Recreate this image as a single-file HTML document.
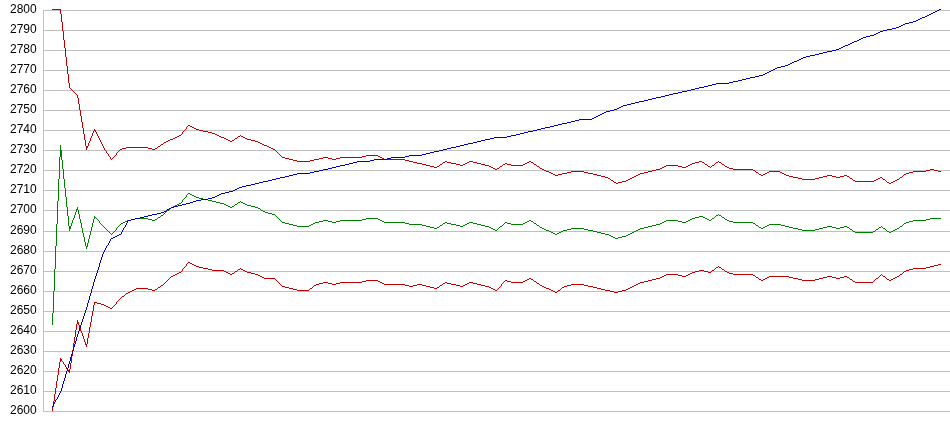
<!DOCTYPE html>
<html><head><meta charset="utf-8"><title>chart</title>
<style>
html,body{margin:0;padding:0;background:#fff;}
body{width:950px;height:435px;position:relative;overflow:hidden;font-family:"Liberation Sans",sans-serif;}
.l{position:absolute;left:10px;width:30px;height:14px;line-height:14px;font-size:12px;color:#000;text-align:left;white-space:nowrap;will-change:transform;}
svg{position:absolute;left:0;top:0;}
</style></head><body>
<svg width="950" height="435" viewBox="0 0 950 435">
<g fill="#c0c0c0" shape-rendering="crispEdges"><rect x="43" y="10" width="907" height="1"/><rect x="43" y="30" width="907" height="1"/><rect x="43" y="50" width="907" height="1"/><rect x="43" y="70" width="907" height="1"/><rect x="43" y="90" width="907" height="1"/><rect x="43" y="110" width="907" height="1"/><rect x="43" y="130" width="907" height="1"/><rect x="43" y="150" width="907" height="1"/><rect x="43" y="170" width="907" height="1"/><rect x="43" y="190" width="907" height="1"/><rect x="43" y="210" width="907" height="1"/><rect x="43" y="231" width="907" height="1"/><rect x="43" y="251" width="907" height="1"/><rect x="43" y="271" width="907" height="1"/><rect x="43" y="291" width="907" height="1"/><rect x="43" y="311" width="907" height="1"/><rect x="43" y="331" width="907" height="1"/><rect x="43" y="351" width="907" height="1"/><rect x="43" y="371" width="907" height="1"/><rect x="43" y="391" width="907" height="1"/><rect x="43" y="411" width="907" height="1"/><rect x="43" y="10" width="1" height="402"/></g>
<g stroke="none" shape-rendering="crispEdges">
<path fill="#008000" d="M60 145h1v1h-1zM60 146h1v1h-1zM60 147h1v1h-1zM60 148h1v1h-1zM60 149h1v1h-1zM60 150h2v1h-2zM60 151h2v1h-2zM60 152h2v1h-2zM60 153h2v1h-2zM60 154h2v1h-2zM60 155h2v1h-2zM60 156h2v1h-2zM59 157h1v1h-1zM61 157h1v1h-1zM59 158h1v1h-1zM61 158h1v1h-1zM59 159h1v1h-1zM61 159h1v1h-1zM59 160h1v1h-1zM62 160h1v1h-1zM59 161h1v1h-1zM62 161h1v1h-1zM59 162h1v1h-1zM62 162h1v1h-1zM59 163h1v1h-1zM62 163h1v1h-1zM59 164h1v1h-1zM62 164h1v1h-1zM59 165h1v1h-1zM62 165h1v1h-1zM59 166h1v1h-1zM62 166h1v1h-1zM59 167h1v1h-1zM62 167h1v1h-1zM59 168h1v1h-1zM62 168h1v1h-1zM59 169h1v1h-1zM63 169h1v1h-1zM59 170h1v1h-1zM63 170h1v1h-1zM59 171h1v1h-1zM63 171h1v1h-1zM59 172h1v1h-1zM63 172h1v1h-1zM59 173h1v1h-1zM63 173h1v1h-1zM59 174h1v1h-1zM63 174h1v1h-1zM59 175h1v1h-1zM63 175h1v1h-1zM59 176h1v1h-1zM63 176h1v1h-1zM59 177h1v1h-1zM63 177h1v1h-1zM59 178h1v1h-1zM63 178h1v1h-1zM58 179h1v1h-1zM64 179h1v1h-1zM58 180h1v1h-1zM64 180h1v1h-1zM58 181h1v1h-1zM64 181h1v1h-1zM58 182h1v1h-1zM64 182h1v1h-1zM58 183h1v1h-1zM64 183h1v1h-1zM58 184h1v1h-1zM64 184h1v1h-1zM58 185h1v1h-1zM64 185h1v1h-1zM58 186h1v1h-1zM64 186h1v1h-1zM58 187h1v1h-1zM64 187h1v1h-1zM58 188h1v1h-1zM65 188h1v1h-1zM58 189h1v1h-1zM65 189h1v1h-1zM58 190h1v1h-1zM65 190h1v1h-1zM58 191h1v1h-1zM65 191h1v1h-1zM58 192h1v1h-1zM65 192h1v1h-1zM58 193h1v1h-1zM65 193h1v1h-1zM188 193h2v1h-2zM58 194h1v1h-1zM65 194h1v1h-1zM187 194h1v1h-1zM190 194h2v1h-2zM58 195h1v1h-1zM65 195h1v1h-1zM186 195h1v1h-1zM192 195h2v1h-2zM58 196h1v1h-1zM65 196h1v1h-1zM186 196h1v1h-1zM194 196h2v1h-2zM58 197h1v1h-1zM66 197h1v1h-1zM185 197h1v1h-1zM196 197h3v1h-3zM58 198h1v1h-1zM66 198h1v1h-1zM184 198h1v1h-1zM199 198h4v1h-4zM58 199h1v1h-1zM66 199h1v1h-1zM183 199h1v1h-1zM203 199h5v1h-5zM58 200h1v1h-1zM66 200h1v1h-1zM182 200h1v1h-1zM208 200h4v1h-4zM57 201h1v1h-1zM66 201h1v1h-1zM182 201h1v1h-1zM212 201h4v1h-4zM240 201h1v1h-1zM57 202h1v1h-1zM66 202h1v1h-1zM181 202h1v1h-1zM216 202h4v1h-4zM238 202h2v1h-2zM241 202h2v1h-2zM57 203h1v1h-1zM66 203h1v1h-1zM179 203h2v1h-2zM220 203h4v1h-4zM237 203h1v1h-1zM243 203h2v1h-2zM57 204h1v1h-1zM66 204h1v1h-1zM177 204h2v1h-2zM224 204h2v1h-2zM235 204h2v1h-2zM245 204h2v1h-2zM57 205h1v1h-1zM66 205h1v1h-1zM175 205h2v1h-2zM226 205h2v1h-2zM234 205h1v1h-1zM247 205h4v1h-4zM57 206h1v1h-1zM66 206h1v1h-1zM173 206h2v1h-2zM228 206h2v1h-2zM232 206h2v1h-2zM251 206h4v1h-4zM57 207h1v1h-1zM67 207h1v1h-1zM77 207h1v1h-1zM171 207h2v1h-2zM230 207h2v1h-2zM255 207h3v1h-3zM57 208h1v1h-1zM67 208h1v1h-1zM77 208h1v1h-1zM170 208h1v1h-1zM258 208h2v1h-2zM57 209h1v1h-1zM67 209h1v1h-1zM76 209h2v1h-2zM169 209h1v1h-1zM260 209h1v1h-1zM57 210h1v1h-1zM67 210h1v1h-1zM76 210h1v1h-1zM78 210h1v1h-1zM167 210h2v1h-2zM261 210h2v1h-2zM57 211h1v1h-1zM67 211h1v1h-1zM76 211h1v1h-1zM78 211h1v1h-1zM166 211h1v1h-1zM263 211h2v1h-2zM57 212h1v1h-1zM67 212h1v1h-1zM75 212h1v1h-1zM78 212h1v1h-1zM165 212h1v1h-1zM265 212h3v1h-3zM57 213h1v1h-1zM67 213h1v1h-1zM75 213h1v1h-1zM78 213h1v1h-1zM164 213h1v1h-1zM268 213h4v1h-4zM57 214h1v1h-1zM67 214h1v1h-1zM75 214h1v1h-1zM79 214h1v1h-1zM163 214h1v1h-1zM272 214h3v1h-3zM718 214h1v1h-1zM57 215h1v1h-1zM67 215h1v1h-1zM74 215h1v1h-1zM79 215h1v1h-1zM161 215h2v1h-2zM275 215h1v1h-1zM716 215h2v1h-2zM719 215h2v1h-2zM57 216h1v1h-1zM68 216h1v1h-1zM74 216h1v1h-1zM79 216h1v1h-1zM94 216h1v1h-1zM160 216h1v1h-1zM276 216h1v1h-1zM699 216h4v1h-4zM715 216h1v1h-1zM721 216h1v1h-1zM57 217h1v1h-1zM68 217h1v1h-1zM74 217h1v1h-1zM79 217h1v1h-1zM94 217h2v1h-2zM158 217h2v1h-2zM277 217h1v1h-1zM695 217h4v1h-4zM703 217h2v1h-2zM714 217h1v1h-1zM722 217h2v1h-2zM57 218h1v1h-1zM68 218h1v1h-1zM73 218h1v1h-1zM79 218h1v1h-1zM94 218h1v1h-1zM96 218h1v1h-1zM135 218h13v1h-13zM157 218h1v1h-1zM278 218h1v1h-1zM366 218h12v1h-12zM692 218h3v1h-3zM705 218h2v1h-2zM712 218h2v1h-2zM724 218h1v1h-1zM930 218h11v1h-11zM57 219h1v1h-1zM68 219h1v1h-1zM73 219h1v1h-1zM80 219h1v1h-1zM93 219h1v1h-1zM97 219h1v1h-1zM131 219h4v1h-4zM148 219h4v1h-4zM155 219h2v1h-2zM279 219h1v1h-1zM362 219h4v1h-4zM378 219h2v1h-2zM690 219h2v1h-2zM707 219h2v1h-2zM711 219h1v1h-1zM725 219h2v1h-2zM926 219h4v1h-4zM57 220h1v1h-1zM68 220h1v1h-1zM72 220h1v1h-1zM80 220h1v1h-1zM93 220h1v1h-1zM98 220h1v1h-1zM127 220h4v1h-4zM152 220h3v1h-3zM280 220h1v1h-1zM323 220h5v1h-5zM340 220h22v1h-22zM380 220h2v1h-2zM529 220h2v1h-2zM666 220h12v1h-12zM688 220h2v1h-2zM709 220h2v1h-2zM727 220h2v1h-2zM913 220h13v1h-13zM57 221h1v1h-1zM68 221h1v1h-1zM72 221h1v1h-1zM80 221h1v1h-1zM93 221h1v1h-1zM99 221h1v1h-1zM125 221h2v1h-2zM281 221h1v1h-1zM319 221h4v1h-4zM328 221h4v1h-4zM336 221h4v1h-4zM382 221h2v1h-2zM527 221h2v1h-2zM531 221h2v1h-2zM664 221h2v1h-2zM678 221h4v1h-4zM686 221h2v1h-2zM729 221h4v1h-4zM909 221h4v1h-4zM57 222h1v1h-1zM68 222h1v1h-1zM72 222h1v1h-1zM80 222h1v1h-1zM93 222h1v1h-1zM99 222h1v1h-1zM123 222h2v1h-2zM282 222h3v1h-3zM315 222h4v1h-4zM332 222h4v1h-4zM384 222h21v1h-21zM445 222h2v1h-2zM469 222h4v1h-4zM505 222h2v1h-2zM525 222h2v1h-2zM533 222h1v1h-1zM662 222h2v1h-2zM682 222h4v1h-4zM733 222h20v1h-20zM906 222h3v1h-3zM57 223h1v1h-1zM68 223h1v1h-1zM71 223h1v1h-1zM81 223h1v1h-1zM92 223h1v1h-1zM100 223h1v1h-1zM121 223h2v1h-2zM285 223h4v1h-4zM313 223h2v1h-2zM405 223h4v1h-4zM443 223h2v1h-2zM447 223h4v1h-4zM467 223h2v1h-2zM473 223h4v1h-4zM504 223h1v1h-1zM507 223h4v1h-4zM523 223h2v1h-2zM534 223h2v1h-2zM660 223h2v1h-2zM753 223h2v1h-2zM904 223h2v1h-2zM56 224h1v1h-1zM68 224h1v1h-1zM71 224h1v1h-1zM81 224h1v1h-1zM92 224h1v1h-1zM101 224h1v1h-1zM120 224h1v1h-1zM289 224h4v1h-4zM311 224h2v1h-2zM409 224h13v1h-13zM442 224h1v1h-1zM451 224h5v1h-5zM465 224h2v1h-2zM477 224h4v1h-4zM503 224h1v1h-1zM511 224h12v1h-12zM536 224h1v1h-1zM656 224h4v1h-4zM755 224h1v1h-1zM769 224h12v1h-12zM903 224h1v1h-1zM56 225h1v1h-1zM68 225h1v1h-1zM71 225h1v1h-1zM81 225h1v1h-1zM92 225h1v1h-1zM102 225h1v1h-1zM119 225h1v1h-1zM293 225h4v1h-4zM309 225h2v1h-2zM422 225h4v1h-4zM440 225h2v1h-2zM456 225h4v1h-4zM463 225h2v1h-2zM481 225h4v1h-4zM502 225h1v1h-1zM537 225h2v1h-2zM652 225h4v1h-4zM756 225h2v1h-2zM767 225h2v1h-2zM781 225h4v1h-4zM902 225h1v1h-1zM56 226h1v1h-1zM69 226h2v1h-2zM81 226h1v1h-1zM92 226h1v1h-1zM103 226h1v1h-1zM118 226h1v1h-1zM297 226h12v1h-12zM426 226h4v1h-4zM439 226h1v1h-1zM460 226h3v1h-3zM485 226h4v1h-4zM500 226h2v1h-2zM539 226h1v1h-1zM648 226h4v1h-4zM758 226h1v1h-1zM765 226h2v1h-2zM785 226h4v1h-4zM827 226h5v1h-5zM844 226h3v1h-3zM881 226h1v1h-1zM900 226h2v1h-2zM56 227h1v1h-1zM69 227h2v1h-2zM81 227h1v1h-1zM91 227h1v1h-1zM104 227h1v1h-1zM117 227h1v1h-1zM430 227h4v1h-4zM437 227h2v1h-2zM489 227h2v1h-2zM499 227h1v1h-1zM540 227h2v1h-2zM644 227h4v1h-4zM759 227h2v1h-2zM763 227h2v1h-2zM789 227h4v1h-4zM823 227h4v1h-4zM832 227h4v1h-4zM840 227h4v1h-4zM847 227h2v1h-2zM879 227h2v1h-2zM882 227h1v1h-1zM899 227h1v1h-1zM56 228h1v1h-1zM69 228h2v1h-2zM82 228h1v1h-1zM91 228h1v1h-1zM105 228h1v1h-1zM116 228h1v1h-1zM434 228h3v1h-3zM491 228h2v1h-2zM498 228h1v1h-1zM542 228h2v1h-2zM571 228h13v1h-13zM640 228h4v1h-4zM761 228h2v1h-2zM793 228h5v1h-5zM819 228h4v1h-4zM836 228h4v1h-4zM849 228h1v1h-1zM878 228h1v1h-1zM883 228h2v1h-2zM897 228h2v1h-2zM56 229h1v1h-1zM69 229h1v1h-1zM82 229h1v1h-1zM91 229h1v1h-1zM106 229h1v1h-1zM116 229h1v1h-1zM493 229h2v1h-2zM497 229h1v1h-1zM544 229h2v1h-2zM567 229h4v1h-4zM584 229h4v1h-4zM638 229h2v1h-2zM798 229h4v1h-4zM815 229h4v1h-4zM850 229h2v1h-2zM876 229h2v1h-2zM885 229h1v1h-1zM895 229h2v1h-2zM56 230h1v1h-1zM69 230h1v1h-1zM82 230h1v1h-1zM91 230h1v1h-1zM107 230h1v1h-1zM115 230h1v1h-1zM495 230h2v1h-2zM546 230h3v1h-3zM563 230h4v1h-4zM588 230h5v1h-5zM636 230h2v1h-2zM802 230h13v1h-13zM852 230h1v1h-1zM875 230h1v1h-1zM886 230h1v1h-1zM893 230h2v1h-2zM56 231h1v1h-1zM82 231h1v1h-1zM90 231h1v1h-1zM108 231h1v1h-1zM114 231h1v1h-1zM549 231h2v1h-2zM561 231h2v1h-2zM593 231h4v1h-4zM634 231h2v1h-2zM853 231h2v1h-2zM873 231h2v1h-2zM887 231h2v1h-2zM891 231h2v1h-2zM56 232h1v1h-1zM82 232h1v1h-1zM90 232h1v1h-1zM109 232h1v1h-1zM113 232h1v1h-1zM551 232h2v1h-2zM559 232h2v1h-2zM597 232h4v1h-4zM632 232h2v1h-2zM855 232h18v1h-18zM889 232h2v1h-2zM56 233h1v1h-1zM83 233h1v1h-1zM90 233h1v1h-1zM110 233h1v1h-1zM112 233h1v1h-1zM553 233h2v1h-2zM557 233h2v1h-2zM601 233h4v1h-4zM630 233h2v1h-2zM56 234h1v1h-1zM83 234h1v1h-1zM90 234h1v1h-1zM111 234h1v1h-1zM555 234h2v1h-2zM605 234h4v1h-4zM628 234h2v1h-2zM56 235h1v1h-1zM83 235h1v1h-1zM89 235h1v1h-1zM609 235h2v1h-2zM626 235h2v1h-2zM56 236h1v1h-1zM83 236h1v1h-1zM89 236h1v1h-1zM611 236h2v1h-2zM622 236h4v1h-4zM56 237h1v1h-1zM84 237h1v1h-1zM89 237h1v1h-1zM613 237h2v1h-2zM618 237h4v1h-4zM56 238h1v1h-1zM84 238h1v1h-1zM89 238h1v1h-1zM615 238h3v1h-3zM56 239h1v1h-1zM84 239h1v1h-1zM88 239h1v1h-1zM56 240h1v1h-1zM84 240h1v1h-1zM88 240h1v1h-1zM56 241h1v1h-1zM84 241h1v1h-1zM88 241h1v1h-1zM56 242h1v1h-1zM85 242h1v1h-1zM88 242h1v1h-1zM56 243h1v1h-1zM85 243h1v1h-1zM87 243h1v1h-1zM56 244h1v1h-1zM85 244h1v1h-1zM87 244h1v1h-1zM56 245h1v1h-1zM85 245h1v1h-1zM87 245h1v1h-1zM55 246h1v1h-1zM86 246h2v1h-2zM55 247h1v1h-1zM86 247h1v1h-1zM55 248h1v1h-1zM86 248h1v1h-1zM55 249h1v1h-1zM55 250h1v1h-1zM55 251h1v1h-1zM55 252h1v1h-1zM55 253h1v1h-1zM55 254h1v1h-1zM55 255h1v1h-1zM55 256h1v1h-1zM55 257h1v1h-1zM55 258h1v1h-1zM55 259h1v1h-1zM55 260h1v1h-1zM55 261h1v1h-1zM55 262h1v1h-1zM55 263h1v1h-1zM55 264h1v1h-1zM55 265h1v1h-1zM55 266h1v1h-1zM55 267h1v1h-1zM55 268h1v1h-1zM54 269h1v1h-1zM54 270h1v1h-1zM54 271h1v1h-1zM54 272h1v1h-1zM54 273h1v1h-1zM54 274h1v1h-1zM54 275h1v1h-1zM54 276h1v1h-1zM54 277h1v1h-1zM54 278h1v1h-1zM54 279h1v1h-1zM54 280h1v1h-1zM54 281h1v1h-1zM54 282h1v1h-1zM54 283h1v1h-1zM54 284h1v1h-1zM54 285h1v1h-1zM54 286h1v1h-1zM54 287h1v1h-1zM54 288h1v1h-1zM54 289h1v1h-1zM54 290h1v1h-1zM53 291h1v1h-1zM53 292h1v1h-1zM53 293h1v1h-1zM53 294h1v1h-1zM53 295h1v1h-1zM53 296h1v1h-1zM53 297h1v1h-1zM53 298h1v1h-1zM53 299h1v1h-1zM53 300h1v1h-1zM53 301h1v1h-1zM53 302h1v1h-1zM53 303h1v1h-1zM53 304h1v1h-1zM53 305h1v1h-1zM53 306h1v1h-1zM53 307h1v1h-1zM53 308h1v1h-1zM53 309h1v1h-1zM53 310h1v1h-1zM53 311h1v1h-1zM53 312h1v1h-1zM52 313h1v1h-1zM52 314h1v1h-1zM52 315h1v1h-1zM52 316h1v1h-1zM52 317h1v1h-1zM52 318h1v1h-1zM52 319h1v1h-1zM52 320h1v1h-1zM52 321h1v1h-1zM52 322h1v1h-1zM52 323h1v1h-1zM52 324h1v1h-1z"/>
<path fill="#c00000" d="M52 9h9v1h-9zM60 10h1v1h-1zM60 11h1v1h-1zM60 12h1v1h-1zM60 13h1v1h-1zM61 14h1v1h-1zM61 15h1v1h-1zM61 16h1v1h-1zM61 17h1v1h-1zM61 18h1v1h-1zM61 19h1v1h-1zM61 20h1v1h-1zM61 21h1v1h-1zM62 22h1v1h-1zM62 23h1v1h-1zM62 24h1v1h-1zM62 25h1v1h-1zM62 26h1v1h-1zM62 27h1v1h-1zM62 28h1v1h-1zM62 29h1v1h-1zM62 30h1v1h-1zM63 31h1v1h-1zM63 32h1v1h-1zM63 33h1v1h-1zM63 34h1v1h-1zM63 35h1v1h-1zM63 36h1v1h-1zM63 37h1v1h-1zM63 38h1v1h-1zM63 39h1v1h-1zM64 40h1v1h-1zM64 41h1v1h-1zM64 42h1v1h-1zM64 43h1v1h-1zM64 44h1v1h-1zM64 45h1v1h-1zM64 46h1v1h-1zM64 47h1v1h-1zM65 48h1v1h-1zM65 49h1v1h-1zM65 50h1v1h-1zM65 51h1v1h-1zM65 52h1v1h-1zM65 53h1v1h-1zM65 54h1v1h-1zM65 55h1v1h-1zM65 56h1v1h-1zM66 57h1v1h-1zM66 58h1v1h-1zM66 59h1v1h-1zM66 60h1v1h-1zM66 61h1v1h-1zM66 62h1v1h-1zM66 63h1v1h-1zM66 64h1v1h-1zM66 65h1v1h-1zM67 66h1v1h-1zM67 67h1v1h-1zM67 68h1v1h-1zM67 69h1v1h-1zM67 70h1v1h-1zM67 71h1v1h-1zM67 72h1v1h-1zM67 73h1v1h-1zM68 74h1v1h-1zM68 75h1v1h-1zM68 76h1v1h-1zM68 77h1v1h-1zM68 78h1v1h-1zM68 79h1v1h-1zM68 80h1v1h-1zM68 81h1v1h-1zM68 82h1v1h-1zM69 83h1v1h-1zM69 84h1v1h-1zM69 85h1v1h-1zM69 86h1v1h-1zM69 87h1v1h-1zM70 88h1v1h-1zM71 89h1v1h-1zM72 90h1v1h-1zM73 91h1v1h-1zM74 92h1v1h-1zM75 93h1v1h-1zM76 94h1v1h-1zM77 95h1v1h-1zM77 96h1v1h-1zM77 97h1v1h-1zM78 98h1v1h-1zM78 99h1v1h-1zM78 100h1v1h-1zM78 101h1v1h-1zM78 102h1v1h-1zM78 103h1v1h-1zM79 104h1v1h-1zM79 105h1v1h-1zM79 106h1v1h-1zM79 107h1v1h-1zM79 108h1v1h-1zM79 109h1v1h-1zM80 110h1v1h-1zM80 111h1v1h-1zM80 112h1v1h-1zM80 113h1v1h-1zM80 114h1v1h-1zM80 115h1v1h-1zM81 116h1v1h-1zM81 117h1v1h-1zM81 118h1v1h-1zM81 119h1v1h-1zM81 120h1v1h-1zM81 121h1v1h-1zM82 122h1v1h-1zM82 123h1v1h-1zM82 124h1v1h-1zM82 125h1v1h-1zM188 125h2v1h-2zM82 126h1v1h-1zM187 126h1v1h-1zM190 126h2v1h-2zM82 127h1v1h-1zM186 127h1v1h-1zM192 127h2v1h-2zM83 128h1v1h-1zM186 128h1v1h-1zM194 128h2v1h-2zM83 129h1v1h-1zM94 129h1v1h-1zM185 129h1v1h-1zM196 129h3v1h-3zM83 130h1v1h-1zM94 130h2v1h-2zM184 130h1v1h-1zM199 130h4v1h-4zM83 131h1v1h-1zM93 131h1v1h-1zM95 131h1v1h-1zM183 131h1v1h-1zM203 131h5v1h-5zM83 132h1v1h-1zM93 132h1v1h-1zM96 132h1v1h-1zM182 132h1v1h-1zM208 132h4v1h-4zM83 133h1v1h-1zM92 133h1v1h-1zM96 133h1v1h-1zM182 133h1v1h-1zM212 133h3v1h-3zM84 134h1v1h-1zM92 134h1v1h-1zM97 134h1v1h-1zM181 134h1v1h-1zM215 134h2v1h-2zM84 135h1v1h-1zM92 135h1v1h-1zM97 135h1v1h-1zM179 135h2v1h-2zM217 135h2v1h-2zM240 135h1v1h-1zM84 136h1v1h-1zM91 136h1v1h-1zM98 136h1v1h-1zM177 136h2v1h-2zM219 136h2v1h-2zM238 136h2v1h-2zM241 136h2v1h-2zM84 137h1v1h-1zM91 137h1v1h-1zM98 137h1v1h-1zM175 137h2v1h-2zM221 137h3v1h-3zM237 137h1v1h-1zM243 137h2v1h-2zM84 138h1v1h-1zM90 138h1v1h-1zM99 138h1v1h-1zM173 138h2v1h-2zM224 138h2v1h-2zM235 138h2v1h-2zM245 138h2v1h-2zM84 139h1v1h-1zM90 139h1v1h-1zM99 139h1v1h-1zM170 139h3v1h-3zM226 139h2v1h-2zM234 139h1v1h-1zM247 139h4v1h-4zM85 140h1v1h-1zM90 140h1v1h-1zM100 140h1v1h-1zM168 140h2v1h-2zM228 140h2v1h-2zM232 140h2v1h-2zM251 140h4v1h-4zM85 141h1v1h-1zM89 141h1v1h-1zM100 141h1v1h-1zM166 141h2v1h-2zM230 141h2v1h-2zM255 141h3v1h-3zM85 142h1v1h-1zM89 142h1v1h-1zM101 142h1v1h-1zM164 142h2v1h-2zM258 142h2v1h-2zM85 143h1v1h-1zM88 143h1v1h-1zM101 143h1v1h-1zM163 143h1v1h-1zM260 143h2v1h-2zM85 144h1v1h-1zM88 144h1v1h-1zM102 144h1v1h-1zM161 144h2v1h-2zM262 144h2v1h-2zM85 145h1v1h-1zM88 145h1v1h-1zM102 145h1v1h-1zM160 145h1v1h-1zM264 145h3v1h-3zM86 146h2v1h-2zM103 146h1v1h-1zM158 146h2v1h-2zM267 146h2v1h-2zM86 147h2v1h-2zM103 147h1v1h-1zM126 147h22v1h-22zM157 147h1v1h-1zM269 147h2v1h-2zM86 148h1v1h-1zM104 148h1v1h-1zM122 148h4v1h-4zM148 148h4v1h-4zM155 148h2v1h-2zM271 148h2v1h-2zM86 149h1v1h-1zM104 149h1v1h-1zM120 149h2v1h-2zM152 149h3v1h-3zM273 149h2v1h-2zM105 150h1v1h-1zM119 150h1v1h-1zM275 150h1v1h-1zM106 151h1v1h-1zM118 151h1v1h-1zM276 151h1v1h-1zM106 152h1v1h-1zM117 152h1v1h-1zM277 152h1v1h-1zM107 153h1v1h-1zM116 153h1v1h-1zM278 153h1v1h-1zM108 154h1v1h-1zM116 154h1v1h-1zM279 154h1v1h-1zM108 155h1v1h-1zM115 155h1v1h-1zM280 155h1v1h-1zM366 155h12v1h-12zM109 156h1v1h-1zM114 156h1v1h-1zM281 156h1v1h-1zM362 156h4v1h-4zM378 156h2v1h-2zM110 157h1v1h-1zM113 157h1v1h-1zM282 157h3v1h-3zM323 157h5v1h-5zM340 157h22v1h-22zM380 157h2v1h-2zM110 158h1v1h-1zM112 158h1v1h-1zM285 158h4v1h-4zM319 158h4v1h-4zM328 158h4v1h-4zM336 158h4v1h-4zM382 158h2v1h-2zM111 159h1v1h-1zM289 159h4v1h-4zM314 159h5v1h-5zM332 159h4v1h-4zM384 159h21v1h-21zM293 160h4v1h-4zM310 160h4v1h-4zM405 160h4v1h-4zM297 161h13v1h-13zM409 161h4v1h-4zM445 161h2v1h-2zM469 161h4v1h-4zM529 161h2v1h-2zM699 161h3v1h-3zM718 161h1v1h-1zM413 162h4v1h-4zM443 162h2v1h-2zM447 162h4v1h-4zM467 162h2v1h-2zM473 162h4v1h-4zM527 162h2v1h-2zM531 162h2v1h-2zM695 162h4v1h-4zM702 162h2v1h-2zM716 162h2v1h-2zM719 162h2v1h-2zM417 163h5v1h-5zM442 163h1v1h-1zM451 163h5v1h-5zM465 163h2v1h-2zM477 163h4v1h-4zM505 163h2v1h-2zM525 163h2v1h-2zM533 163h1v1h-1zM692 163h3v1h-3zM704 163h1v1h-1zM715 163h1v1h-1zM721 163h1v1h-1zM422 164h4v1h-4zM440 164h2v1h-2zM456 164h4v1h-4zM463 164h2v1h-2zM481 164h4v1h-4zM503 164h2v1h-2zM507 164h4v1h-4zM523 164h2v1h-2zM534 164h2v1h-2zM690 164h2v1h-2zM705 164h2v1h-2zM714 164h1v1h-1zM722 164h2v1h-2zM426 165h4v1h-4zM439 165h1v1h-1zM460 165h3v1h-3zM485 165h4v1h-4zM502 165h1v1h-1zM511 165h12v1h-12zM536 165h1v1h-1zM666 165h12v1h-12zM688 165h2v1h-2zM707 165h1v1h-1zM712 165h2v1h-2zM724 165h1v1h-1zM430 166h4v1h-4zM437 166h2v1h-2zM489 166h2v1h-2zM500 166h2v1h-2zM537 166h2v1h-2zM664 166h2v1h-2zM678 166h4v1h-4zM686 166h2v1h-2zM708 166h2v1h-2zM711 166h1v1h-1zM725 166h2v1h-2zM434 167h3v1h-3zM491 167h2v1h-2zM499 167h1v1h-1zM539 167h1v1h-1zM662 167h2v1h-2zM682 167h4v1h-4zM710 167h1v1h-1zM727 167h2v1h-2zM493 168h2v1h-2zM497 168h2v1h-2zM540 168h2v1h-2zM660 168h2v1h-2zM729 168h4v1h-4zM495 169h2v1h-2zM542 169h2v1h-2zM656 169h4v1h-4zM733 169h20v1h-20zM930 169h4v1h-4zM544 170h2v1h-2zM652 170h4v1h-4zM753 170h2v1h-2zM926 170h4v1h-4zM934 170h4v1h-4zM546 171h3v1h-3zM571 171h13v1h-13zM648 171h4v1h-4zM755 171h1v1h-1zM769 171h11v1h-11zM913 171h13v1h-13zM938 171h3v1h-3zM549 172h2v1h-2zM567 172h4v1h-4zM584 172h4v1h-4zM644 172h4v1h-4zM756 172h2v1h-2zM767 172h2v1h-2zM780 172h2v1h-2zM909 172h4v1h-4zM551 173h2v1h-2zM562 173h5v1h-5zM588 173h5v1h-5zM640 173h4v1h-4zM758 173h1v1h-1zM765 173h2v1h-2zM782 173h2v1h-2zM906 173h3v1h-3zM553 174h2v1h-2zM558 174h4v1h-4zM593 174h4v1h-4zM638 174h2v1h-2zM759 174h2v1h-2zM763 174h2v1h-2zM784 174h2v1h-2zM904 174h2v1h-2zM555 175h3v1h-3zM597 175h4v1h-4zM636 175h2v1h-2zM761 175h2v1h-2zM786 175h3v1h-3zM827 175h5v1h-5zM844 175h3v1h-3zM903 175h1v1h-1zM601 176h4v1h-4zM634 176h2v1h-2zM789 176h4v1h-4zM823 176h4v1h-4zM832 176h4v1h-4zM840 176h4v1h-4zM847 176h2v1h-2zM902 176h1v1h-1zM605 177h3v1h-3zM632 177h2v1h-2zM793 177h5v1h-5zM819 177h4v1h-4zM836 177h4v1h-4zM849 177h1v1h-1zM880 177h2v1h-2zM900 177h2v1h-2zM608 178h2v1h-2zM630 178h2v1h-2zM798 178h4v1h-4zM815 178h4v1h-4zM850 178h2v1h-2zM878 178h2v1h-2zM882 178h1v1h-1zM899 178h1v1h-1zM610 179h1v1h-1zM628 179h2v1h-2zM802 179h13v1h-13zM852 179h1v1h-1zM876 179h2v1h-2zM883 179h2v1h-2zM897 179h2v1h-2zM611 180h2v1h-2zM626 180h2v1h-2zM853 180h2v1h-2zM874 180h2v1h-2zM885 180h1v1h-1zM895 180h2v1h-2zM613 181h1v1h-1zM622 181h4v1h-4zM855 181h19v1h-19zM886 181h1v1h-1zM893 181h2v1h-2zM614 182h2v1h-2zM618 182h4v1h-4zM887 182h2v1h-2zM891 182h2v1h-2zM616 183h2v1h-2zM889 183h2v1h-2z"/>
<path fill="#c00000" d="M188 262h2v1h-2zM187 263h1v1h-1zM190 263h2v1h-2zM186 264h1v1h-1zM192 264h2v1h-2zM938 264h3v1h-3zM186 265h1v1h-1zM194 265h2v1h-2zM934 265h4v1h-4zM185 266h1v1h-1zM196 266h3v1h-3zM718 266h1v1h-1zM930 266h4v1h-4zM184 267h1v1h-1zM199 267h4v1h-4zM716 267h2v1h-2zM719 267h2v1h-2zM926 267h4v1h-4zM183 268h1v1h-1zM203 268h5v1h-5zM240 268h1v1h-1zM715 268h1v1h-1zM721 268h1v1h-1zM913 268h13v1h-13zM182 269h1v1h-1zM208 269h4v1h-4zM238 269h2v1h-2zM241 269h2v1h-2zM714 269h1v1h-1zM722 269h2v1h-2zM909 269h4v1h-4zM182 270h1v1h-1zM212 270h12v1h-12zM237 270h1v1h-1zM243 270h2v1h-2zM699 270h5v1h-5zM712 270h2v1h-2zM724 270h1v1h-1zM906 270h3v1h-3zM181 271h1v1h-1zM224 271h2v1h-2zM235 271h2v1h-2zM245 271h2v1h-2zM695 271h4v1h-4zM704 271h4v1h-4zM711 271h1v1h-1zM725 271h2v1h-2zM904 271h2v1h-2zM179 272h2v1h-2zM226 272h2v1h-2zM234 272h1v1h-1zM247 272h4v1h-4zM692 272h3v1h-3zM708 272h3v1h-3zM727 272h2v1h-2zM903 272h1v1h-1zM177 273h2v1h-2zM228 273h2v1h-2zM232 273h2v1h-2zM251 273h4v1h-4zM690 273h2v1h-2zM729 273h4v1h-4zM902 273h1v1h-1zM175 274h2v1h-2zM230 274h2v1h-2zM255 274h3v1h-3zM666 274h12v1h-12zM688 274h2v1h-2zM733 274h20v1h-20zM881 274h1v1h-1zM900 274h2v1h-2zM173 275h2v1h-2zM258 275h2v1h-2zM664 275h2v1h-2zM678 275h4v1h-4zM686 275h2v1h-2zM753 275h2v1h-2zM880 275h1v1h-1zM882 275h1v1h-1zM899 275h1v1h-1zM171 276h2v1h-2zM260 276h2v1h-2zM662 276h2v1h-2zM682 276h4v1h-4zM755 276h1v1h-1zM769 276h20v1h-20zM827 276h5v1h-5zM844 276h3v1h-3zM879 276h1v1h-1zM883 276h2v1h-2zM897 276h2v1h-2zM170 277h1v1h-1zM262 277h2v1h-2zM660 277h2v1h-2zM756 277h2v1h-2zM767 277h2v1h-2zM789 277h4v1h-4zM823 277h4v1h-4zM832 277h4v1h-4zM840 277h4v1h-4zM847 277h2v1h-2zM878 277h1v1h-1zM885 277h1v1h-1zM895 277h2v1h-2zM169 278h1v1h-1zM264 278h11v1h-11zM529 278h2v1h-2zM656 278h4v1h-4zM758 278h1v1h-1zM765 278h2v1h-2zM793 278h5v1h-5zM819 278h4v1h-4zM836 278h4v1h-4zM849 278h1v1h-1zM876 278h2v1h-2zM886 278h1v1h-1zM893 278h2v1h-2zM168 279h1v1h-1zM275 279h1v1h-1zM527 279h2v1h-2zM531 279h2v1h-2zM652 279h4v1h-4zM759 279h2v1h-2zM763 279h2v1h-2zM798 279h4v1h-4zM815 279h4v1h-4zM850 279h2v1h-2zM875 279h1v1h-1zM887 279h2v1h-2zM891 279h2v1h-2zM167 280h1v1h-1zM276 280h1v1h-1zM366 280h12v1h-12zM505 280h2v1h-2zM525 280h2v1h-2zM533 280h1v1h-1zM648 280h4v1h-4zM761 280h2v1h-2zM802 280h13v1h-13zM852 280h1v1h-1zM874 280h1v1h-1zM889 280h2v1h-2zM166 281h1v1h-1zM277 281h1v1h-1zM362 281h4v1h-4zM378 281h2v1h-2zM504 281h1v1h-1zM507 281h4v1h-4zM523 281h2v1h-2zM534 281h2v1h-2zM644 281h4v1h-4zM853 281h2v1h-2zM873 281h1v1h-1zM165 282h1v1h-1zM278 282h1v1h-1zM323 282h5v1h-5zM340 282h22v1h-22zM380 282h2v1h-2zM445 282h2v1h-2zM469 282h4v1h-4zM503 282h1v1h-1zM511 282h12v1h-12zM536 282h1v1h-1zM640 282h4v1h-4zM855 282h18v1h-18zM164 283h1v1h-1zM279 283h1v1h-1zM319 283h4v1h-4zM328 283h4v1h-4zM336 283h4v1h-4zM382 283h2v1h-2zM443 283h2v1h-2zM447 283h4v1h-4zM467 283h2v1h-2zM473 283h4v1h-4zM502 283h1v1h-1zM537 283h2v1h-2zM638 283h2v1h-2zM163 284h1v1h-1zM280 284h1v1h-1zM316 284h3v1h-3zM332 284h4v1h-4zM384 284h21v1h-21zM417 284h5v1h-5zM442 284h1v1h-1zM451 284h5v1h-5zM465 284h2v1h-2zM477 284h4v1h-4zM501 284h1v1h-1zM539 284h1v1h-1zM571 284h13v1h-13zM636 284h2v1h-2zM161 285h2v1h-2zM281 285h1v1h-1zM314 285h2v1h-2zM405 285h4v1h-4zM413 285h4v1h-4zM422 285h4v1h-4zM440 285h2v1h-2zM456 285h4v1h-4zM463 285h2v1h-2zM481 285h4v1h-4zM501 285h1v1h-1zM540 285h2v1h-2zM567 285h4v1h-4zM584 285h4v1h-4zM634 285h2v1h-2zM160 286h1v1h-1zM282 286h3v1h-3zM313 286h1v1h-1zM409 286h4v1h-4zM426 286h4v1h-4zM439 286h1v1h-1zM460 286h3v1h-3zM485 286h4v1h-4zM500 286h1v1h-1zM542 286h2v1h-2zM564 286h3v1h-3zM588 286h5v1h-5zM632 286h2v1h-2zM158 287h2v1h-2zM285 287h4v1h-4zM312 287h1v1h-1zM430 287h4v1h-4zM437 287h2v1h-2zM489 287h2v1h-2zM499 287h1v1h-1zM544 287h2v1h-2zM562 287h2v1h-2zM593 287h4v1h-4zM630 287h2v1h-2zM136 288h12v1h-12zM157 288h1v1h-1zM289 288h4v1h-4zM310 288h2v1h-2zM434 288h3v1h-3zM491 288h2v1h-2zM498 288h1v1h-1zM546 288h3v1h-3zM561 288h1v1h-1zM597 288h4v1h-4zM628 288h2v1h-2zM134 289h2v1h-2zM148 289h4v1h-4zM155 289h2v1h-2zM293 289h4v1h-4zM309 289h1v1h-1zM493 289h2v1h-2zM497 289h1v1h-1zM549 289h2v1h-2zM560 289h1v1h-1zM601 289h4v1h-4zM626 289h2v1h-2zM132 290h2v1h-2zM152 290h3v1h-3zM297 290h12v1h-12zM495 290h2v1h-2zM551 290h2v1h-2zM558 290h2v1h-2zM605 290h5v1h-5zM622 290h4v1h-4zM130 291h2v1h-2zM553 291h2v1h-2zM557 291h1v1h-1zM610 291h4v1h-4zM618 291h4v1h-4zM128 292h2v1h-2zM555 292h2v1h-2zM614 292h4v1h-4zM126 293h2v1h-2zM125 294h1v1h-1zM124 295h1v1h-1zM122 296h2v1h-2zM121 297h1v1h-1zM120 298h1v1h-1zM119 299h1v1h-1zM118 300h1v1h-1zM117 301h1v1h-1zM94 302h3v1h-3zM116 302h1v1h-1zM94 303h1v1h-1zM97 303h4v1h-4zM116 303h1v1h-1zM94 304h1v1h-1zM101 304h3v1h-3zM115 304h1v1h-1zM93 305h1v1h-1zM104 305h2v1h-2zM114 305h1v1h-1zM93 306h1v1h-1zM106 306h2v1h-2zM113 306h1v1h-1zM93 307h1v1h-1zM108 307h2v1h-2zM112 307h1v1h-1zM93 308h1v1h-1zM110 308h2v1h-2zM93 309h1v1h-1zM93 310h1v1h-1zM92 311h1v1h-1zM92 312h1v1h-1zM92 313h1v1h-1zM92 314h1v1h-1zM92 315h1v1h-1zM91 316h1v1h-1zM91 317h1v1h-1zM91 318h1v1h-1zM91 319h1v1h-1zM77 320h1v1h-1zM91 320h1v1h-1zM77 321h1v1h-1zM91 321h1v1h-1zM77 322h2v1h-2zM90 322h1v1h-1zM77 323h2v1h-2zM90 323h1v1h-1zM76 324h1v1h-1zM78 324h1v1h-1zM90 324h1v1h-1zM76 325h1v1h-1zM79 325h1v1h-1zM90 325h1v1h-1zM76 326h1v1h-1zM79 326h1v1h-1zM90 326h1v1h-1zM76 327h1v1h-1zM79 327h1v1h-1zM89 327h1v1h-1zM76 328h1v1h-1zM80 328h1v1h-1zM89 328h1v1h-1zM76 329h1v1h-1zM80 329h1v1h-1zM89 329h1v1h-1zM75 330h1v1h-1zM80 330h1v1h-1zM89 330h1v1h-1zM75 331h1v1h-1zM81 331h1v1h-1zM89 331h1v1h-1zM75 332h1v1h-1zM81 332h1v1h-1zM89 332h1v1h-1zM75 333h1v1h-1zM82 333h1v1h-1zM88 333h1v1h-1zM75 334h1v1h-1zM82 334h1v1h-1zM88 334h1v1h-1zM75 335h1v1h-1zM82 335h1v1h-1zM88 335h1v1h-1zM75 336h1v1h-1zM83 336h1v1h-1zM88 336h1v1h-1zM74 337h1v1h-1zM83 337h1v1h-1zM88 337h1v1h-1zM74 338h1v1h-1zM83 338h1v1h-1zM87 338h1v1h-1zM74 339h1v1h-1zM84 339h1v1h-1zM87 339h1v1h-1zM74 340h1v1h-1zM84 340h1v1h-1zM87 340h1v1h-1zM74 341h1v1h-1zM84 341h1v1h-1zM87 341h1v1h-1zM74 342h1v1h-1zM85 342h1v1h-1zM87 342h1v1h-1zM73 343h1v1h-1zM85 343h1v1h-1zM87 343h1v1h-1zM73 344h1v1h-1zM85 344h2v1h-2zM73 345h1v1h-1zM86 345h1v1h-1zM73 346h1v1h-1zM86 346h1v1h-1zM73 347h1v1h-1zM73 348h1v1h-1zM73 349h1v1h-1zM72 350h1v1h-1zM72 351h1v1h-1zM72 352h1v1h-1zM72 353h1v1h-1zM72 354h1v1h-1zM72 355h1v1h-1zM71 356h1v1h-1zM71 357h1v1h-1zM60 358h1v1h-1zM71 358h1v1h-1zM60 359h2v1h-2zM71 359h1v1h-1zM60 360h2v1h-2zM71 360h1v1h-1zM60 361h1v1h-1zM62 361h1v1h-1zM71 361h1v1h-1zM59 362h1v1h-1zM63 362h1v1h-1zM71 362h1v1h-1zM59 363h1v1h-1zM63 363h1v1h-1zM70 363h1v1h-1zM59 364h1v1h-1zM64 364h1v1h-1zM70 364h1v1h-1zM59 365h1v1h-1zM65 365h1v1h-1zM70 365h1v1h-1zM59 366h1v1h-1zM65 366h1v1h-1zM70 366h1v1h-1zM59 367h1v1h-1zM66 367h1v1h-1zM70 367h1v1h-1zM58 368h1v1h-1zM66 368h1v1h-1zM70 368h1v1h-1zM58 369h1v1h-1zM67 369h1v1h-1zM69 369h1v1h-1zM58 370h1v1h-1zM68 370h2v1h-2zM58 371h1v1h-1zM68 371h2v1h-2zM58 372h1v1h-1zM69 372h1v1h-1zM58 373h1v1h-1zM58 374h1v1h-1zM57 375h1v1h-1zM57 376h1v1h-1zM57 377h1v1h-1zM57 378h1v1h-1zM57 379h1v1h-1zM57 380h1v1h-1zM56 381h1v1h-1zM56 382h1v1h-1zM56 383h1v1h-1zM56 384h1v1h-1zM56 385h1v1h-1zM56 386h1v1h-1zM56 387h1v1h-1zM55 388h1v1h-1zM55 389h1v1h-1zM55 390h1v1h-1zM55 391h1v1h-1zM55 392h1v1h-1zM55 393h1v1h-1zM54 394h1v1h-1zM54 395h1v1h-1zM54 396h1v1h-1zM54 397h1v1h-1zM54 398h1v1h-1zM54 399h1v1h-1zM54 400h1v1h-1zM53 401h1v1h-1zM53 402h1v1h-1zM53 403h1v1h-1zM53 404h1v1h-1zM53 405h1v1h-1zM53 406h1v1h-1zM52 407h1v1h-1zM52 408h1v1h-1zM52 409h1v1h-1zM52 410h1v1h-1z"/>
<path fill="#0000c0" d="M939 9h2v1h-2zM937 10h2v1h-2zM935 11h2v1h-2zM933 12h2v1h-2zM931 13h2v1h-2zM929 14h2v1h-2zM927 15h2v1h-2zM925 16h2v1h-2zM922 17h3v1h-3zM920 18h2v1h-2zM918 19h2v1h-2zM916 20h2v1h-2zM913 21h3v1h-3zM909 22h4v1h-4zM905 23h4v1h-4zM903 24h2v1h-2zM901 25h2v1h-2zM899 26h2v1h-2zM896 27h3v1h-3zM892 28h4v1h-4zM887 29h5v1h-5zM883 30h4v1h-4zM880 31h3v1h-3zM878 32h2v1h-2zM876 33h2v1h-2zM874 34h2v1h-2zM870 35h4v1h-4zM866 36h4v1h-4zM863 37h3v1h-3zM861 38h2v1h-2zM859 39h2v1h-2zM857 40h2v1h-2zM854 41h3v1h-3zM852 42h2v1h-2zM850 43h2v1h-2zM848 44h2v1h-2zM845 45h3v1h-3zM843 46h2v1h-2zM841 47h2v1h-2zM839 48h2v1h-2zM836 49h3v1h-3zM832 50h4v1h-4zM827 51h5v1h-5zM823 52h4v1h-4zM819 53h4v1h-4zM815 54h4v1h-4zM810 55h5v1h-5zM806 56h4v1h-4zM803 57h3v1h-3zM801 58h2v1h-2zM799 59h2v1h-2zM797 60h2v1h-2zM794 61h3v1h-3zM792 62h2v1h-2zM790 63h2v1h-2zM788 64h2v1h-2zM785 65h3v1h-3zM781 66h4v1h-4zM777 67h4v1h-4zM775 68h2v1h-2zM773 69h2v1h-2zM771 70h2v1h-2zM769 71h2v1h-2zM767 72h2v1h-2zM765 73h2v1h-2zM763 74h2v1h-2zM759 75h4v1h-4zM755 76h4v1h-4zM750 77h5v1h-5zM746 78h4v1h-4zM742 79h4v1h-4zM738 80h4v1h-4zM733 81h5v1h-5zM729 82h4v1h-4zM716 83h13v1h-13zM712 84h4v1h-4zM708 85h4v1h-4zM704 86h4v1h-4zM699 87h5v1h-5zM695 88h4v1h-4zM691 89h4v1h-4zM687 90h4v1h-4zM682 91h5v1h-5zM678 92h4v1h-4zM673 93h5v1h-5zM669 94h4v1h-4zM665 95h4v1h-4zM661 96h4v1h-4zM656 97h5v1h-5zM652 98h4v1h-4zM648 99h4v1h-4zM644 100h4v1h-4zM639 101h5v1h-5zM635 102h4v1h-4zM631 103h4v1h-4zM627 104h4v1h-4zM623 105h4v1h-4zM621 106h2v1h-2zM619 107h2v1h-2zM617 108h2v1h-2zM614 109h3v1h-3zM610 110h4v1h-4zM606 111h4v1h-4zM604 112h2v1h-2zM602 113h2v1h-2zM600 114h2v1h-2zM598 115h2v1h-2zM596 116h2v1h-2zM594 117h2v1h-2zM592 118h2v1h-2zM579 119h13v1h-13zM575 120h4v1h-4zM571 121h4v1h-4zM567 122h4v1h-4zM562 123h5v1h-5zM558 124h4v1h-4zM554 125h4v1h-4zM550 126h4v1h-4zM545 127h5v1h-5zM541 128h4v1h-4zM537 129h4v1h-4zM533 130h4v1h-4zM528 131h5v1h-5zM524 132h4v1h-4zM520 133h4v1h-4zM516 134h4v1h-4zM511 135h5v1h-5zM507 136h4v1h-4zM494 137h13v1h-13zM490 138h4v1h-4zM485 139h5v1h-5zM481 140h4v1h-4zM477 141h4v1h-4zM473 142h4v1h-4zM468 143h5v1h-5zM464 144h4v1h-4zM460 145h4v1h-4zM456 146h4v1h-4zM451 147h5v1h-5zM447 148h4v1h-4zM443 149h4v1h-4zM439 150h4v1h-4zM434 151h5v1h-5zM430 152h4v1h-4zM426 153h4v1h-4zM422 154h4v1h-4zM409 155h13v1h-13zM405 156h4v1h-4zM391 157h14v1h-14zM387 158h4v1h-4zM374 159h13v1h-13zM370 160h4v1h-4zM357 161h13v1h-13zM353 162h4v1h-4zM349 163h4v1h-4zM345 164h4v1h-4zM340 165h5v1h-5zM336 166h4v1h-4zM332 167h4v1h-4zM328 168h4v1h-4zM323 169h5v1h-5zM319 170h4v1h-4zM314 171h5v1h-5zM310 172h4v1h-4zM297 173h13v1h-13zM293 174h4v1h-4zM289 175h4v1h-4zM285 176h4v1h-4zM280 177h5v1h-5zM276 178h4v1h-4zM272 179h4v1h-4zM268 180h4v1h-4zM263 181h5v1h-5zM259 182h4v1h-4zM255 183h4v1h-4zM251 184h4v1h-4zM246 185h5v1h-5zM242 186h4v1h-4zM239 187h3v1h-3zM237 188h2v1h-2zM235 189h2v1h-2zM233 190h2v1h-2zM229 191h4v1h-4zM225 192h4v1h-4zM221 193h4v1h-4zM219 194h2v1h-2zM217 195h2v1h-2zM215 196h2v1h-2zM212 197h3v1h-3zM208 198h4v1h-4zM201 199h7v1h-7zM196 200h5v1h-5zM193 201h3v1h-3zM190 202h3v1h-3zM186 203h4v1h-4zM182 204h4v1h-4zM178 205h4v1h-4zM174 206h4v1h-4zM171 207h3v1h-3zM169 208h2v1h-2zM167 209h2v1h-2zM166 210h1v1h-1zM164 211h2v1h-2zM161 212h3v1h-3zM157 213h4v1h-4zM152 214h5v1h-5zM148 215h4v1h-4zM144 216h4v1h-4zM140 217h4v1h-4zM135 218h5v1h-5zM131 219h4v1h-4zM128 220h3v1h-3zM127 221h1v1h-1zM127 222h1v1h-1zM126 223h1v1h-1zM126 224h1v1h-1zM125 225h1v1h-1zM125 226h1v1h-1zM124 227h1v1h-1zM123 228h1v1h-1zM123 229h1v1h-1zM122 230h1v1h-1zM122 231h1v1h-1zM121 232h1v1h-1zM121 233h1v1h-1zM119 234h2v1h-2zM117 235h2v1h-2zM115 236h2v1h-2zM113 237h2v1h-2zM111 238h2v1h-2zM110 239h1v1h-1zM110 240h1v1h-1zM109 241h1v1h-1zM109 242h1v1h-1zM108 243h1v1h-1zM108 244h1v1h-1zM107 245h1v1h-1zM106 246h1v1h-1zM106 247h1v1h-1zM105 248h1v1h-1zM105 249h1v1h-1zM104 250h1v1h-1zM104 251h1v1h-1zM103 252h1v1h-1zM103 253h1v1h-1zM102 254h1v1h-1zM102 255h1v1h-1zM102 256h1v1h-1zM101 257h1v1h-1zM101 258h1v1h-1zM101 259h1v1h-1zM100 260h1v1h-1zM100 261h1v1h-1zM100 262h1v1h-1zM99 263h1v1h-1zM99 264h1v1h-1zM99 265h1v1h-1zM99 266h1v1h-1zM98 267h1v1h-1zM98 268h1v1h-1zM98 269h1v1h-1zM97 270h1v1h-1zM97 271h1v1h-1zM97 272h1v1h-1zM96 273h1v1h-1zM96 274h1v1h-1zM96 275h1v1h-1zM95 276h1v1h-1zM95 277h1v1h-1zM95 278h1v1h-1zM94 279h1v1h-1zM94 280h1v1h-1zM94 281h1v1h-1zM93 282h1v1h-1zM93 283h1v1h-1zM93 284h1v1h-1zM93 285h1v1h-1zM92 286h1v1h-1zM92 287h1v1h-1zM92 288h1v1h-1zM91 289h1v1h-1zM91 290h1v1h-1zM91 291h1v1h-1zM91 292h1v1h-1zM90 293h1v1h-1zM90 294h1v1h-1zM90 295h1v1h-1zM89 296h1v1h-1zM89 297h1v1h-1zM89 298h1v1h-1zM89 299h1v1h-1zM88 300h1v1h-1zM88 301h1v1h-1zM88 302h1v1h-1zM87 303h1v1h-1zM87 304h1v1h-1zM87 305h1v1h-1zM87 306h1v1h-1zM86 307h1v1h-1zM86 308h1v1h-1zM86 309h1v1h-1zM85 310h1v1h-1zM85 311h1v1h-1zM85 312h1v1h-1zM84 313h1v1h-1zM84 314h1v1h-1zM84 315h1v1h-1zM83 316h1v1h-1zM83 317h1v1h-1zM83 318h1v1h-1zM82 319h1v1h-1zM82 320h1v1h-1zM82 321h1v1h-1zM81 322h1v1h-1zM81 323h1v1h-1zM81 324h1v1h-1zM80 325h1v1h-1zM80 326h1v1h-1zM80 327h1v1h-1zM79 328h1v1h-1zM79 329h1v1h-1zM79 330h1v1h-1zM78 331h1v1h-1zM78 332h1v1h-1zM78 333h1v1h-1zM77 334h1v1h-1zM77 335h1v1h-1zM77 336h1v1h-1zM76 337h1v1h-1zM76 338h1v1h-1zM76 339h1v1h-1zM76 340h1v1h-1zM75 341h1v1h-1zM75 342h1v1h-1zM75 343h1v1h-1zM74 344h1v1h-1zM74 345h1v1h-1zM74 346h1v1h-1zM73 347h1v1h-1zM73 348h1v1h-1zM73 349h1v1h-1zM73 350h1v1h-1zM72 351h1v1h-1zM72 352h1v1h-1zM72 353h1v1h-1zM71 354h1v1h-1zM71 355h1v1h-1zM71 356h1v1h-1zM70 357h1v1h-1zM70 358h1v1h-1zM70 359h1v1h-1zM70 360h1v1h-1zM69 361h1v1h-1zM69 362h1v1h-1zM69 363h1v1h-1zM68 364h1v1h-1zM68 365h1v1h-1zM68 366h1v1h-1zM68 367h1v1h-1zM67 368h1v1h-1zM67 369h1v1h-1zM67 370h1v1h-1zM66 371h1v1h-1zM66 372h1v1h-1zM66 373h1v1h-1zM65 374h1v1h-1zM65 375h1v1h-1zM65 376h1v1h-1zM65 377h1v1h-1zM64 378h1v1h-1zM64 379h1v1h-1zM64 380h1v1h-1zM63 381h1v1h-1zM63 382h1v1h-1zM63 383h1v1h-1zM62 384h1v1h-1zM62 385h1v1h-1zM62 386h1v1h-1zM62 387h1v1h-1zM61 388h1v1h-1zM61 389h1v1h-1zM61 390h1v1h-1zM60 391h1v1h-1zM60 392h1v1h-1zM59 393h1v1h-1zM59 394h1v1h-1zM58 395h1v1h-1zM58 396h1v1h-1zM57 397h1v1h-1zM57 398h1v1h-1zM56 399h1v1h-1zM55 400h1v1h-1zM55 401h1v1h-1zM54 402h1v1h-1zM54 403h1v1h-1zM53 404h1v1h-1zM53 405h1v1h-1zM52 406h1v1h-1z"/>
</g>
</svg>
<div class="l" style="top:2px">2800</div><div class="l" style="top:22px">2790</div><div class="l" style="top:42px">2780</div><div class="l" style="top:62px">2770</div><div class="l" style="top:82px">2760</div><div class="l" style="top:102px">2750</div><div class="l" style="top:122px">2740</div><div class="l" style="top:142px">2730</div><div class="l" style="top:162px">2720</div><div class="l" style="top:182px">2710</div><div class="l" style="top:202px">2700</div><div class="l" style="top:223px">2690</div><div class="l" style="top:243px">2680</div><div class="l" style="top:263px">2670</div><div class="l" style="top:283px">2660</div><div class="l" style="top:303px">2650</div><div class="l" style="top:323px">2640</div><div class="l" style="top:343px">2630</div><div class="l" style="top:363px">2620</div><div class="l" style="top:383px">2610</div><div class="l" style="top:403px">2600</div>
</body></html>
